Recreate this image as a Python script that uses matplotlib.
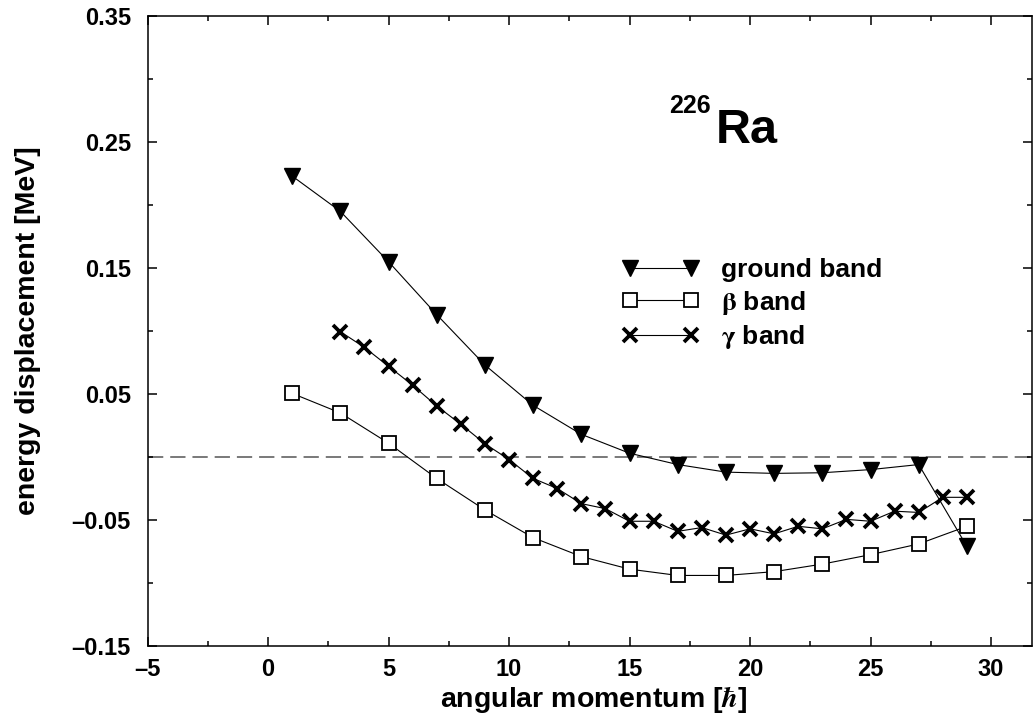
import numpy as np
import matplotlib
matplotlib.use("Agg")
import matplotlib.pyplot as plt

# angular momentum values
spin_ground = np.arange(1, 30, 2)
spin_beta = np.arange(1, 30, 2)
spin_gamma = np.arange(3, 30, 1)

# energy displacement [MeV]
ground_band = [0.223, 0.195, 0.155, 0.113, 0.073, 0.041, 0.018, 0.003,
               -0.006, -0.012, -0.013, -0.0125, -0.010, -0.006, -0.071]
beta_band = [0.0505, 0.035, 0.011, -0.017, -0.042, -0.064, -0.079, -0.089,
             -0.094, -0.094, -0.091, -0.085, -0.0775, -0.069, -0.055]
gamma_band = [0.0995, 0.087, 0.072, 0.057, 0.0405, 0.026, 0.0105, -0.002,
              -0.017, -0.025, -0.037, -0.041, -0.051, -0.051, -0.059, -0.056,
              -0.062, -0.057, -0.061, -0.055, -0.057, -0.0495, -0.051,
              -0.043, -0.044, -0.032, -0.032]

xticks = [-5, 0, 5, 10, 15, 20, 25, 30]
xtick_labels = ['\u20135', '0', '5', '10', '15', '20', '25', '30']
yticks = [-0.15, -0.05, 0.05, 0.15, 0.25, 0.35]
ytick_labels = ['\u20130.15', '\u20130.05', '0.05', '0.15', '0.25', '0.35']

plt.rcParams['font.family'] = ['Liberation Sans', 'DejaVu Sans']
plt.rcParams['font.weight'] = 'bold'
plt.rcParams['mathtext.fontset'] = 'stix'
plt.rcParams['lines.scale_dashes'] = False

W, H = 1033, 723
fig = plt.figure(figsize=(W / 100, H / 100), dpi=100)
ax = fig.add_axes([147.5 / W, 1 - 646 / H, (1032 - 147.5) / W, (646 - 16) / H])

ax.axhline(0, color='#555555', lw=1.1, dashes=(11, 5), zorder=1)

ax.plot(spin_ground, ground_band, color='black', lw=0.8, marker='v',
        ms=12, mfc='black', mec='black', label='ground band')
ax.plot(spin_beta, beta_band, color='black', lw=0.8, marker='s',
        ms=10, mfc='white', mec='black', mew=1.3,
        label=r'$\mathrm{\beta}$ band')
ax.plot(spin_gamma, gamma_band, color='black', lw=0.8, marker='x',
        ms=10.5, mec='black', mew=2.7, label=r'$\mathrm{\gamma}$ band')

ax.set_xlim(-5, 31.7)
ax.set_ylim(-0.15, 0.35)
ax.set_xticks(xticks)
ax.set_xticklabels(xtick_labels)
ax.set_xticks(np.arange(-2.5, 31, 5), minor=True)
ax.set_yticks(yticks)
ax.set_yticklabels(ytick_labels)
ax.set_yticks(np.arange(-0.10, 0.35, 0.1), minor=True)

for s in ax.spines.values():
    s.set_linewidth(1.1)
ax.tick_params(which='both', direction='in', top=True, right=True, width=1.1)
ax.tick_params(which='major', length=6.5)
ax.tick_params(which='minor', length=3.5)
ax.tick_params(axis='x', which='major', labelsize=17, pad=9)
ax.tick_params(axis='y', which='major', labelsize=17, pad=12)

fig.text(594 / W, 1 - 707 / H, r'angular momentum [$\hbar$]', fontsize=20.5,
         fontweight='bold', ha='center', va='baseline')
fig.text(28 / W, 1 - 331 / H, 'energy displacement [MeV]', fontsize=20.5,
         fontweight='bold', ha='center', va='center', rotation=90)

fig.text(669 / W, 1 - 113 / H, '226', fontsize=18, fontweight='bold',
         va='baseline')
fig.text(716 / W, 1 - 143 / H, 'Ra', fontsize=35, fontweight='bold',
         va='baseline')

leg = ax.legend(loc='upper left', bbox_to_anchor=(622 / W, 1 - 258 / H),
                bbox_transform=fig.transFigure, frameon=False, numpoints=2,
                fontsize=19, handlelength=2.9, handletextpad=0.85,
                labelspacing=0.25, borderpad=0, borderaxespad=0)
for line in leg.get_lines():
    line.set_linewidth(0.8)

fig.savefig('out.png', dpi=100)
